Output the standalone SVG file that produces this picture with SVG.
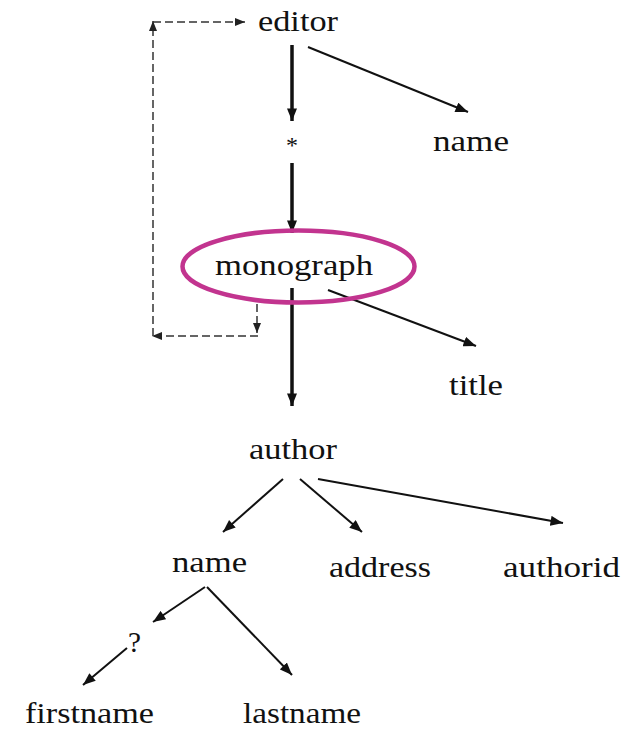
<svg xmlns="http://www.w3.org/2000/svg" width="639" height="729" viewBox="0 0 639 729">
  <style>
    text { font-family: 'Liberation Serif', 'Times New Roman', Times, serif; font-size: 30px; fill: #111; }
    .edge { stroke: #111; stroke-width: 2; fill: none; marker-end: url(#arrow); }
    .thick { stroke-width: 3.5; }
    .ref { stroke: #333; stroke-width: 1.5; stroke-dasharray: 8 4; fill: none; marker-end: url(#arrowSmall); }
    .ring { fill: none; stroke: #c2348f; stroke-width: 4.5; }
  </style>
  <defs>
    <marker id="arrow" viewBox="0 0 10 8" refX="10" refY="4" markerWidth="13" markerHeight="10" markerUnits="userSpaceOnUse" orient="auto">
      <path d="M0,0 L10,4 L0,8 z" fill="#111"/>
    </marker>
    <marker id="arrowSmall" viewBox="0 0 10 8" refX="10" refY="4" markerWidth="10" markerHeight="8" markerUnits="userSpaceOnUse" orient="auto">
      <path d="M0,0 L10,4 L0,8 z" fill="#222"/>
    </marker>
  </defs>

  <g id="connectors">
    <line class="edge thick" x1="292" y1="45" x2="292" y2="121"/>
    <line class="edge" x1="308" y1="47" x2="468" y2="112"/>
    <line class="edge thick" x1="292" y1="163" x2="292" y2="233"/>
    <line class="edge" x1="328" y1="290" x2="476" y2="346"/>
    <line class="edge thick" x1="292" y1="288" x2="292" y2="406"/>
    <line class="edge" x1="283" y1="479" x2="223" y2="532"/>
    <line class="edge" x1="300" y1="479" x2="362" y2="532"/>
    <line class="edge" x1="318" y1="479" x2="563" y2="523"/>
    <line class="edge" x1="205" y1="587" x2="153" y2="622"/>
    <line class="edge" x1="207" y1="587" x2="292" y2="675"/>
    <line class="edge" x1="127" y1="648" x2="83" y2="685"/>
    <!-- recursive reference from monograph back to editor -->
    <line class="ref" x1="257" y1="304" x2="257" y2="333"/>
    <line class="ref" x1="258" y1="336" x2="152" y2="336"/>
    <line class="ref" x1="153" y1="336" x2="153" y2="21"/>
    <line class="ref" x1="153" y1="22" x2="245" y2="22"/>
  </g>

  <g id="editor"><text x="258" y="31" textLength="80" lengthAdjust="spacingAndGlyphs">editor</text></g>
  <g id="star"><text x="286" y="153" style="font-size:24px">*</text></g>
  <g id="editor-name"><text x="433" y="151" textLength="76" lengthAdjust="spacingAndGlyphs">name</text></g>
  <g id="monograph">
    <ellipse class="ring" cx="298.5" cy="266.5" rx="116" ry="36"/>
    <text x="215" y="275" textLength="158" lengthAdjust="spacingAndGlyphs">monograph</text>
  </g>
  <g id="title"><text x="449" y="395" textLength="54" lengthAdjust="spacingAndGlyphs">title</text></g>
  <g id="author"><text x="249" y="459" textLength="88" lengthAdjust="spacingAndGlyphs">author</text></g>
  <g id="author-name"><text x="172" y="572" textLength="75" lengthAdjust="spacingAndGlyphs">name</text></g>
  <g id="address"><text x="329" y="577" textLength="102" lengthAdjust="spacingAndGlyphs">address</text></g>
  <g id="authorid"><text x="503" y="577" textLength="117" lengthAdjust="spacingAndGlyphs">authorid</text></g>
  <g id="optional"><text x="128" y="652" textLength="13" lengthAdjust="spacingAndGlyphs">?</text></g>
  <g id="firstname"><text x="25" y="723" textLength="129" lengthAdjust="spacingAndGlyphs">firstname</text></g>
  <g id="lastname"><text x="243" y="723" textLength="118" lengthAdjust="spacingAndGlyphs">lastname</text></g>
</svg>
